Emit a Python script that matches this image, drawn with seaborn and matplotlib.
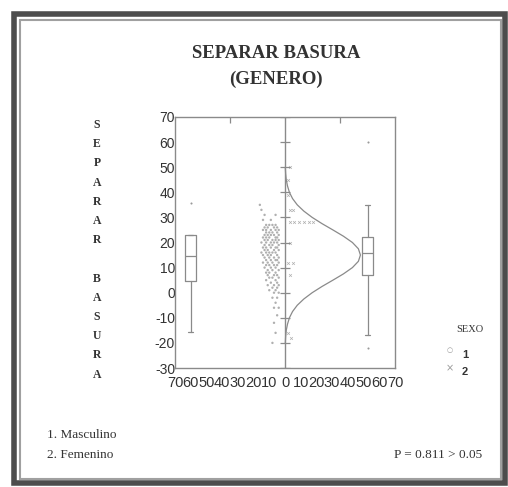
import numpy as np
import pandas as pd
import seaborn as sns
import matplotlib.pyplot as plt
from matplotlib.patches import Rectangle

# --- data ---
y_ticks = [-30, -20, -10, 0, 10, 20, 30, 40, 50, 60, 70]
x_ticks = [-70, -60, -50, -40, -30, -20, -10, 0, 10, 20, 30, 40, 50, 60, 70]
x_tick_labels = ['70', '60', '50', '40', '30', '20', '10', '0',
                 '10', '20', '30', '40', '50', '60', '70']
letters = list('SEPARAR BASURA')

# sexo 1 (masculino): points left of centre line
g1_x = [-16, -15, -13, -6, -14, -9, -12, -10, -8, -6, -13, -11, -7, -5,
        -14, -12, -9, -6, -4, -12, -10, -8, -5, -13, -11, -9, -7, -4,
        -14, -12, -10, -6, -5, -13, -11, -8, -6, -4, -15, -12, -9, -7, -5,
        -13, -10, -8, -4, -14, -12, -9, -6, -5, -13, -11, -7, -4,
        -15, -12, -10, -8, -6, -14, -11, -9, -5, -13, -10, -7, -4,
        -12, -9, -6, -5, -14, -11, -8, -4, -12, -10, -7, -5, -13, -9, -6,
        -11, -8, -4, -12, -10, -6, -11, -7, -5, -10, -8, -4, -12, -6, -9, -5,
        -11, -7, -4, -8, -5, -10, -6, -7, -4, -8, -5, -6, -7, -4, -5, -7, -6, -8]
g1_y = [35, 33, 31, 31, 29, 29, 27, 27, 27, 27, 26, 26, 26, 26,
        25, 25, 25, 25, 25, 24, 24, 24, 24, 23, 23, 23, 23, 23,
        22, 22, 22, 22, 22, 21, 21, 21, 21, 21, 20, 20, 20, 20, 20,
        19, 19, 19, 19, 18, 18, 18, 18, 18, 17, 17, 17, 17,
        16, 16, 16, 16, 16, 15, 15, 15, 15, 14, 14, 14, 14,
        13, 13, 13, 13, 12, 12, 12, 12, 11, 11, 11, 11, 10, 10, 10,
        9, 9, 9, 8, 8, 8, 7, 7, 7, 6, 6, 6, 5, 5, 4, 4,
        3, 3, 3, 2, 2, 1, 1, 0, 0, -2, -2, -4, -6, -6, -9, -12, -16, -20]

# sexo 2 (femenino): points right of centre line
g2_x = [3, 2, 2, 3, 5, 3, 6, 9, 12, 15, 18, 3, 2, 5, 3, 2, 4]
g2_y = [50, 45, 39, 33, 33, 28, 28, 28, 28, 28, 28, 20, 12, 12, 7, -16, -18]

# box plot summaries (q1, median, q3, whiskers, outliers)
box_pos = [-60, 52.5]
box_q1 = [4.5, 7.0]
box_med = [14.7, 15.7]
box_q3 = [23.0, 22.3]
box_lo = [-15.5, -16.8]
box_hi = [23.0, 35.0]
box_out = [[35.7], [60.2, -21.9]]

# fitted normal curve for sexo 2 (read along y)
curve_y = [-20, -17.5, -15, -12.5, -10, -7.5, -5, -2.5, 0, 2.5, 5, 7.5, 10,
           12.5, 15, 17.5, 20, 22.5, 25, 27.5, 30, 32.5, 35, 37.5, 40, 42.5,
           45, 47.5, 50]
curve_x = [0.2, 0.4, 0.8, 1.6, 2.8, 4.8, 7.8, 12.0, 17.3, 23.6, 30.5, 37.2,
           42.9, 46.7, 48.0, 46.7, 42.9, 37.2, 30.5, 23.6, 17.3, 12.0, 7.8,
           4.8, 2.8, 1.6, 0.8, 0.4, 0.2]

W, H = 508, 487
GREY = '#8a8a8a'
TXT = '#333333'


def fx(px):
    return px / W


def fy(py):
    return 1 - py / H


sns.set_style('white')
plt.rcParams['font.family'] = ['Liberation Sans', 'DejaVu Sans']
plt.rcParams['axes.unicode_minus'] = False

fig = plt.figure(figsize=(W / 100, H / 100), dpi=100)
ax = fig.add_axes([fx(175), fy(368), (395 - 175) / W, (368 - 117) / H])

# points
p1 = pd.DataFrame({'x': g1_x, 'y': g1_y})
p2 = pd.DataFrame({'x': g2_x, 'y': g2_y})
sns.scatterplot(data=p1, x='x', y='y', ax=ax, marker='o', s=3,
                color='#b0b0b0', edgecolor='none', linewidth=0, legend=False)
sns.scatterplot(data=p2, x='x', y='y', ax=ax, marker='x', s=4,
                color='#b0b0b0', linewidth=0.5, legend=False)

# normal curve
curve = pd.DataFrame({'x': curve_x, 'y': curve_y})
sns.lineplot(data=curve, x='x', y='y', ax=ax, sort=False, estimator=None,
             color=GREY, lw=0.9)

# centre line with its own ticks
ax.axvline(0, color=GREY, lw=1)
ax.plot([0] * len(y_ticks), y_ticks, ls='none', marker='_', ms=7,
        mew=0.9, color=GREY)

# box plots
stats = []
for i in range(2):
    stats.append({'q1': box_q1[i], 'med': box_med[i], 'q3': box_q3[i],
                  'whislo': box_lo[i], 'whishi': box_hi[i],
                  'fliers': box_out[i]})
ax.bxp(stats, positions=box_pos, widths=7, capwidths=3,
       boxprops=dict(color=GREY, lw=0.9),
       medianprops=dict(color=GREY, lw=0.9),
       whiskerprops=dict(color=GREY, lw=0.9),
       capprops=dict(color=GREY, lw=0.9),
       flierprops=dict(marker='o', ms=1.5, mfc='#999999', mec='none'))

ax.set_xlim(-70, 70)
ax.set_ylim(-30, 70)
ax.set_xticks(x_ticks)
ax.set_xticklabels(x_tick_labels)
ax.set_yticks(y_ticks)
ax.set_xlabel('')
ax.set_ylabel('')
ax.tick_params(direction='in', length=4, width=0.9, color=GREY,
               labelsize=10, labelcolor=TXT, pad=1)
ax.tick_params(axis='x', pad=6, labelsize=10.5)
ax.tick_params(axis='y', pad=0)
sec = ax.secondary_xaxis('top')
sec.set_xticks([-35, 35])
sec.set_xticklabels([])
sec.tick_params(direction='in', length=4, width=0.9, color=GREY)
sec.spines['top'].set_visible(False)
for s in ax.spines.values():
    s.set_color(GREY)
    s.set_linewidth(1)

serif = ['Liberation Serif', 'DejaVu Serif']

# titles
fig.text(fx(276), fy(54), 'SEPARAR BASURA', ha='center', va='center',
         family=serif, weight='bold', fontsize=13.5, color=TXT)
fig.text(fx(276), fy(79), '(GENERO)', ha='center', va='center',
         family=serif, weight='bold', fontsize=13.5, color=TXT)

# vertical stacked axis title
for i, ch in enumerate(letters):
    fig.text(fx(97), fy(125 + i * 19.2), ch, ha='center', va='center',
             family=serif, weight='bold', fontsize=8.5, color=TXT)

# legend
fig.text(fx(470), fy(329), 'SEXO', ha='center', va='center',
         family=serif, fontsize=7.5, color=TXT)
fig.text(fx(450), fy(350), '\u25cb', ha='center', va='center',
         fontsize=5, color='#999999', family=['DejaVu Sans'])
fig.text(fx(450), fy(368), '\u00d7', ha='center', va='center',
         fontsize=7, color='#999999', family=['DejaVu Sans'])
fig.text(fx(465), fy(355), '1', ha='center', va='center',
         fontsize=8, weight='bold', color=TXT)
fig.text(fx(465), fy(372), '2', ha='center', va='center',
         fontsize=8, weight='bold', color=TXT)

# notes
fig.text(fx(47), fy(435), '1. Masculino', ha='left', va='center',
         family=serif, fontsize=9.5, color=TXT)
fig.text(fx(47), fy(455), '2. Femenino', ha='left', va='center',
         family=serif, fontsize=9.5, color=TXT)
fig.text(fx(482), fy(455), 'P = 0.811 > 0.05', ha='right', va='center',
         family=serif, fontsize=9.5, color=TXT)

# double frame round the figure
fig.add_artist(Rectangle((fx(14), fy(483)), (505 - 14) / W, (483 - 14) / H,
                         transform=fig.transFigure, fill=False,
                         ec='#4d4d4d', lw=4))
fig.add_artist(Rectangle((fx(19.5), fy(478.5)), (500.5 - 19.5) / W,
                         (478.5 - 19.5) / H, transform=fig.transFigure,
                         fill=False, ec='#a0a0a0', lw=1.5))

fig.savefig('out.png', dpi=100)
